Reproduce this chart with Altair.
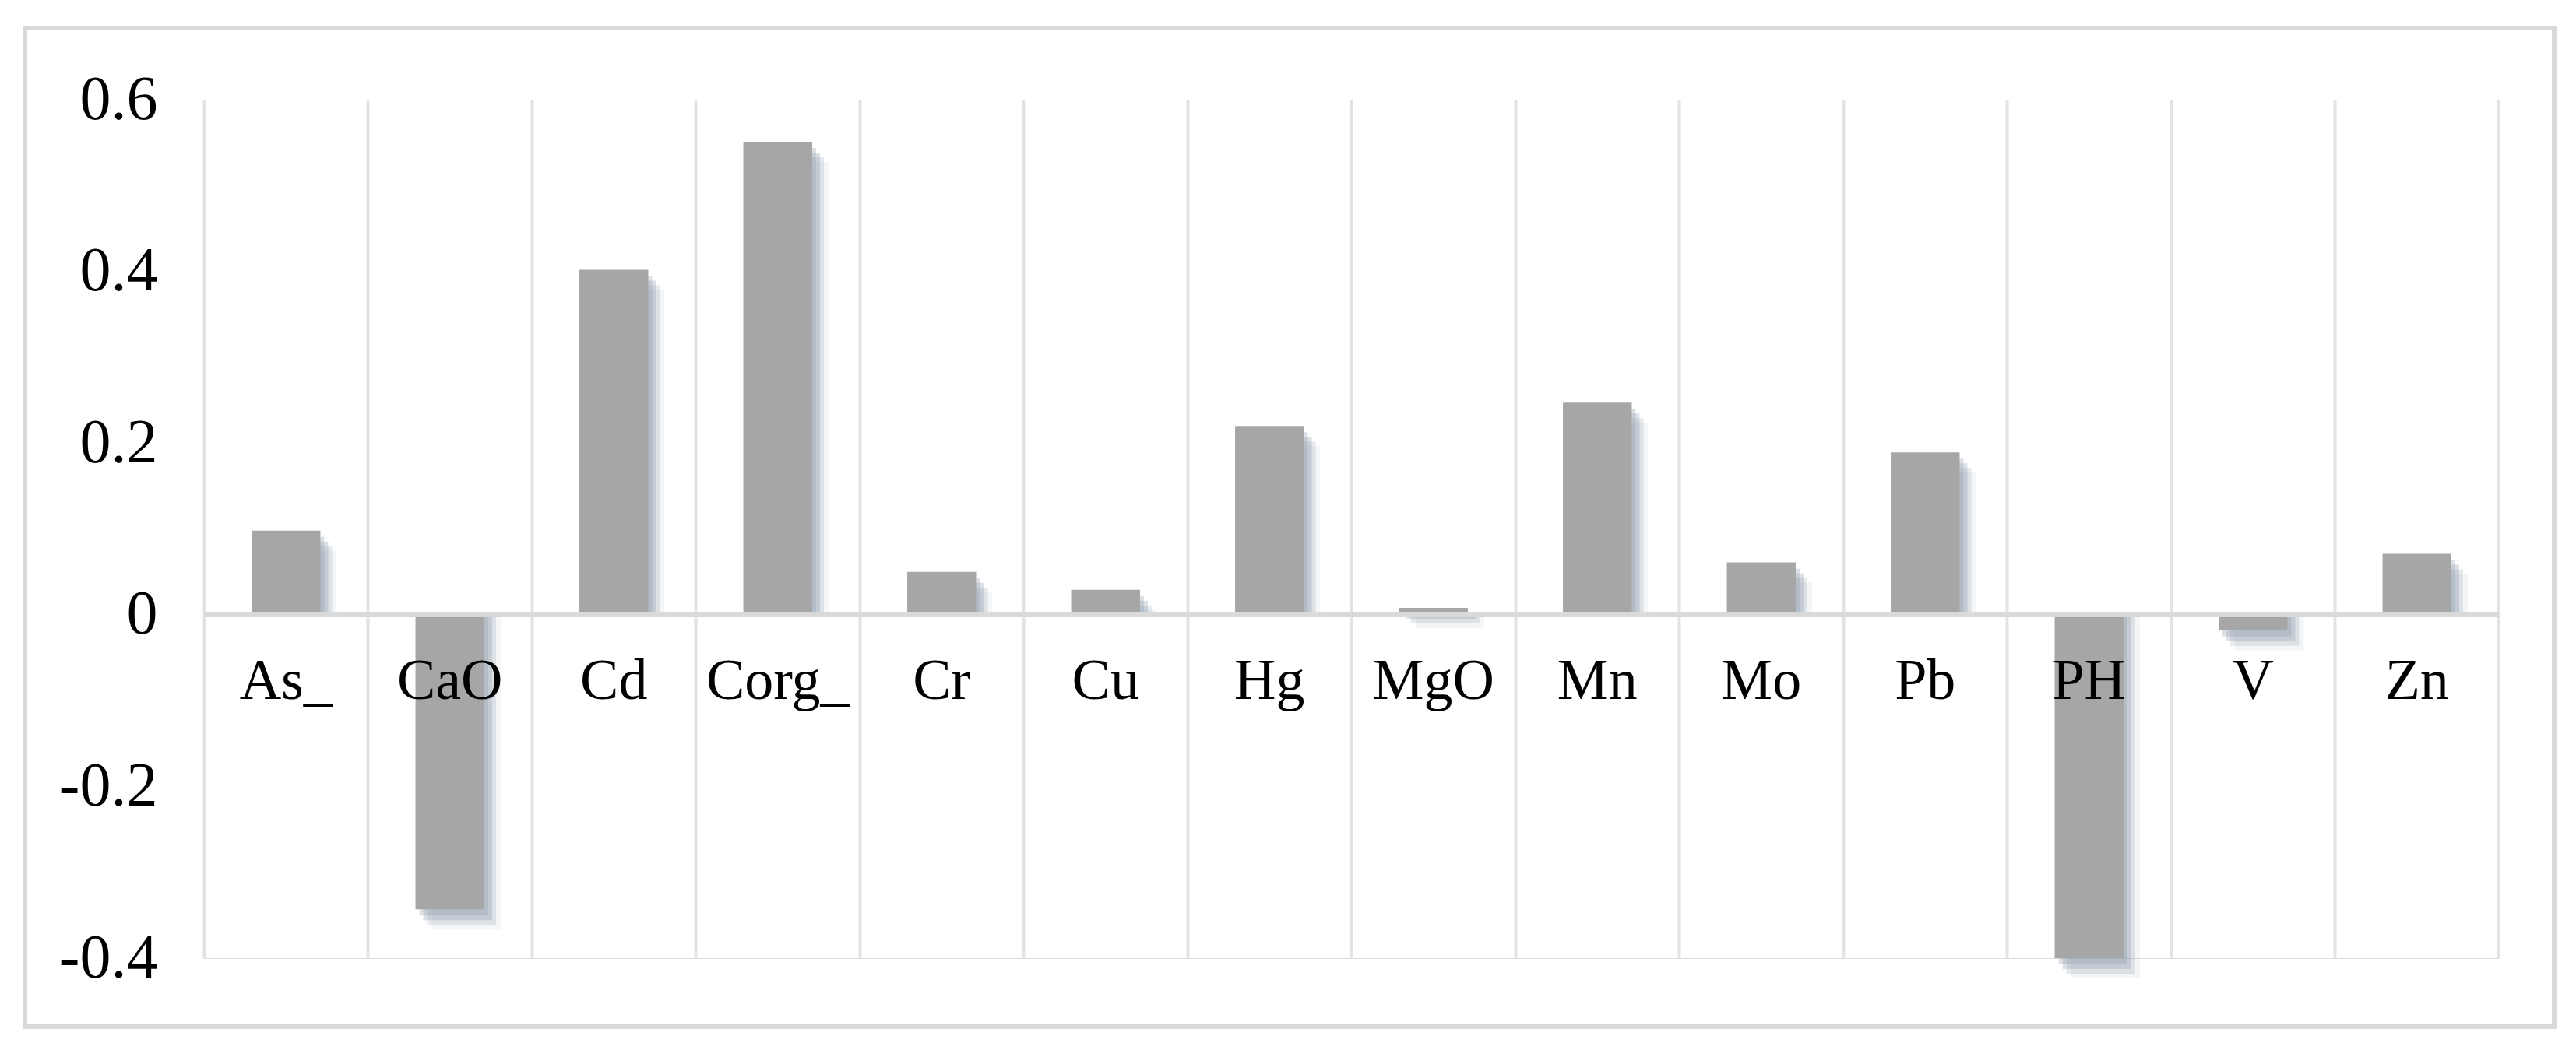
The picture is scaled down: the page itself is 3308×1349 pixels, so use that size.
import altair as alt
import pandas as pd

categories = ["As_", "CaO", "Cd", "Corg_", "Cr", "Cu", "Hg", "MgO", "Mn", "Mo", "Pb", "PH", "V", "Zn"]
values = [0.098, -0.343, 0.402, 0.551, 0.050, 0.029, 0.220, 0.008, 0.247, 0.061, 0.189, -0.400, -0.018, 0.071]
y_ticks = [-0.4, -0.2, 0, 0.2, 0.4, 0.6]

df = pd.DataFrame({"cat": categories, "val": values})

W, H = 2947, 1103
FONT = "Liberation Serif"
BW = alt.RelativeBandSize(0.42)

xscale = alt.Scale(domain=categories, paddingInner=0, paddingOuter=0)
yscale = alt.Scale(domain=[-0.4, 0.6], nice=False, zero=False)

base = alt.Chart(df)

grid = base.mark_bar(opacity=0).encode(
    x=alt.X("cat:N", scale=xscale, sort=categories, title=None,
            axis=alt.Axis(labels=False, ticks=False, domain=False, grid=True,
                          gridColor="#e3e3e3", gridWidth=4, bandPosition=0)),
    y=alt.Y("val:Q", scale=yscale, title=None,
            axis=alt.Axis(values=y_ticks, grid=False, ticks=False, tickSize=0, domain=False,
                          labelFont=FONT, labelFontSize=80, labelColor="#000000",
                          labelPadding=60, labelExpr="datum.value + ''")),
)

right_edge = alt.Chart(df).mark_rule(color="#e3e3e3", strokeWidth=4).encode(
    x=alt.value(W), y=alt.value(0), y2=alt.value(H)
)

def shadow(dx, dy, op):
    return base.mark_bar(color="#8e9aab", opacity=op, xOffset=dx, yOffset=dy, width=BW).encode(
        x=alt.X("cat:N", scale=xscale, sort=categories),
        y=alt.Y("val:Q", scale=yscale),
        y2=alt.datum(0),
    )

shadows = [shadow(5, 8, 0.3), shadow(10, 14, 0.3), shadow(15, 20, 0.22), shadow(21, 26, 0.1)]

bars = base.mark_bar(color="#a6a6a6", width=BW).encode(
    x=alt.X("cat:N", scale=xscale, sort=categories),
    y=alt.Y("val:Q", scale=yscale),
    y2=alt.datum(0),
)

zero = base.mark_rule(color="#d9d9d9", strokeWidth=6).encode(
    y=alt.datum(0)
)

labels = base.mark_text(font=FONT, fontSize=74, color="#000000", baseline="alphabetic", dy=108).encode(
    x=alt.X("cat:N", scale=xscale, sort=categories),
    y=alt.datum(0),
    text="cat:N",
)

border = base.mark_rect(filled=False, stroke="#d9d9d9", strokeWidth=6).encode(
    x=alt.value(-230), x2=alt.value(3018), y=alt.value(-92), y2=alt.value(1191)
)

chart = alt.layer(grid, right_edge, *shadows, bars, zero, labels, border).properties(
    width=W, height=H,
    autosize=alt.AutoSizeParams(type="none"),
    padding={"left": 254, "top": 120, "right": 85, "bottom": 100},
).configure_view(stroke=None).configure(background="white")

chart.save("out.html", embed_options={"renderer": "svg", "actions": False})
